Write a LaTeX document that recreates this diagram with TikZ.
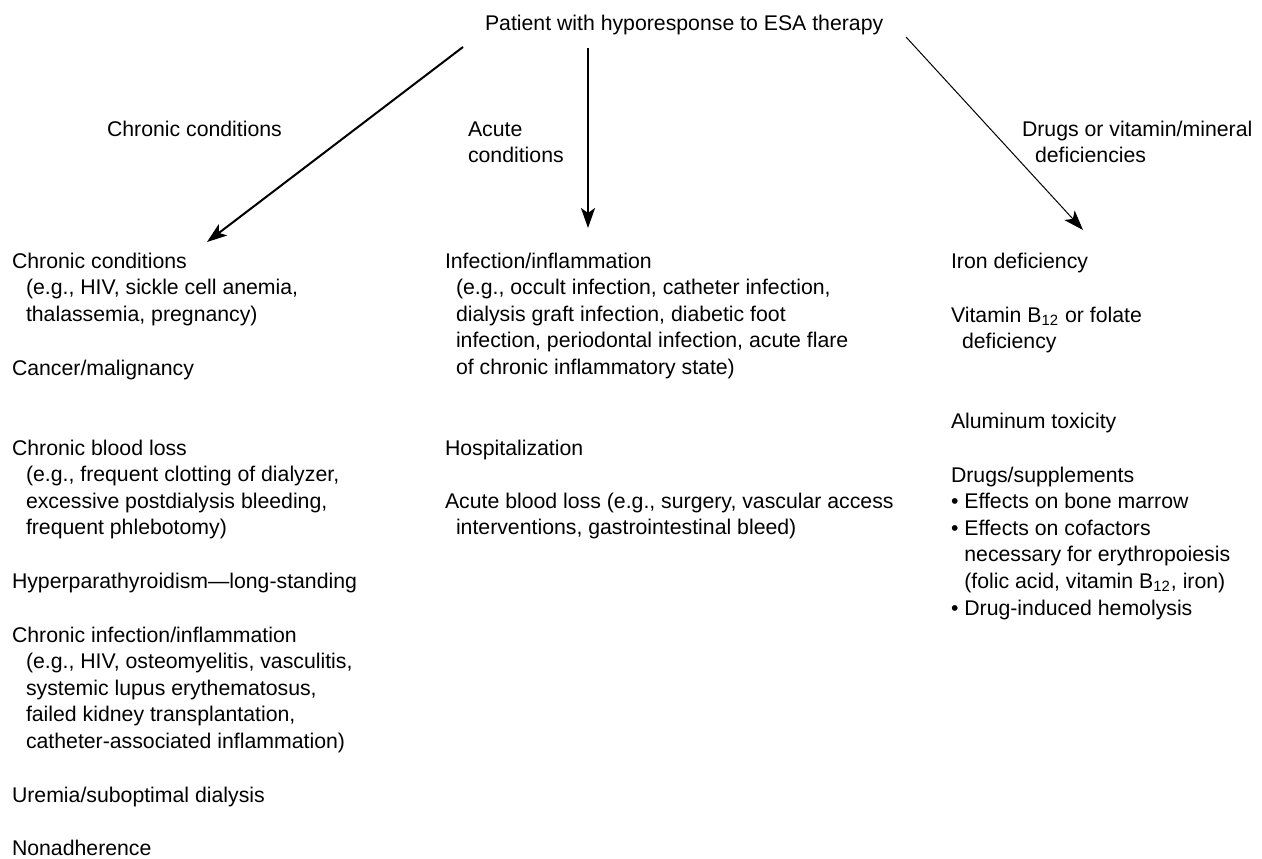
\documentclass[tikz,border=0pt]{standalone}
\usepackage{fontspec}
\setmainfont{Liberation Sans}
\usetikzlibrary{arrows.meta}

% a left-aligned block of lines whose reference point is the first baseline
\newcommand{\textlines}[1]{\begin{tabular}[t]{@{}l@{}}#1\end{tabular}}
\newcommand{\ind}[1]{\hspace*{#1}}
\newcommand{\hang}{\phantom{•\ }}

\tikzset{
  entry/.style={anchor=base west, inner sep=0pt, outer sep=0pt,
                font=\fontsize{10.63pt}{13.3pt}\selectfont},
  branch/.style={-{Stealth[length=10pt,width=7pt,inset=2.5pt]}, line width=#1},
  branch/.default=1pt
}

\begin{document}
\begin{tikzpicture}[x=0.5pt,y=-0.5pt]
\useasboundingbox (0,0) rectangle (1262,858);

% root
\node[entry] (title) at (485,30) {Patient with hyporesponse to ESA therapy};

% branch labels
\node[entry] (labchronic) at (107,136) {Chronic conditions};
\node[entry] (labacute) at (468,136) {\textlines{Acute\\conditions}};
\node[entry] (labdrugs) at (1022,136) {\textlines{Drugs or vitamin/mineral\\\ind{6.5pt}deficiencies}};

% arrow ends
\coordinate (sL) at (463,47);  \coordinate (eL) at (207,242);
\coordinate (sM) at (588,48);  \coordinate (eM) at (588,228);
\coordinate (sR) at (906,37);  \coordinate (eR) at (1083,230);

\draw[branch=1pt] (sL) -- (eL);
\draw[branch=1.2pt] (sM) -- (eM);
\draw[branch=0.5pt] (sR) -- (eR);

% chronic column
\node[entry] (c1) at (12,268) {\textlines{Chronic conditions\\
  \ind{7pt}(e.g., HIV, sickle cell anemia,\\
  \ind{7pt}thalassemia, pregnancy)}};
\node[entry] (c2) at (12,375) {Cancer/malignancy};
\node[entry] (c3) at (12,455) {\textlines{Chronic blood loss\\
  \ind{7pt}(e.g., frequent clotting of dialyzer,\\
  \ind{7pt}excessive postdialysis bleeding,\\
  \ind{7pt}frequent phlebotomy)}};
\node[entry] (c4) at (12,588) {Hyperparathyroidism—long-standing};
\node[entry] (c5) at (12,642) {\textlines{Chronic infection/inflammation\\
  \ind{7pt}(e.g., HIV, osteomyelitis, vasculitis,\\
  \ind{7pt}systemic lupus erythematosus,\\
  \ind{7pt}failed kidney transplantation,\\
  \ind{7pt}catheter-associated inflammation)}};
\node[entry] (c6) at (12,802) {Uremia/suboptimal dialysis};
\node[entry] (c7) at (12,855) {Nonadherence};

% acute column
\node[entry] (a1) at (445,268) {\textlines{Infection/inflammation\\
  \ind{5.5pt}(e.g., occult infection, catheter infection,\\
  \ind{5.5pt}dialysis graft infection, diabetic foot\\
  \ind{5.5pt}infection, periodontal infection, acute flare\\
  \ind{5.5pt}of chronic inflammatory state)}};
\node[entry] (a2) at (445,455) {Hospitalization};
\node[entry] (a3) at (445,508) {\textlines{Acute blood loss (e.g., surgery, vascular access\\
  \ind{5.5pt}interventions, gastrointestinal bleed)}};

% drugs / deficiencies column
\node[entry] (d1) at (951,268) {Iron deficiency};
\node[entry] (d2) at (951,322) {\textlines{Vitamin B\textsubscript{12} or folate\\
  \ind{5.5pt}deficiency}};
\node[entry] (d3) at (951,428) {Aluminum toxicity};
\node[entry] (d4) at (951,482) {\textlines{Drugs/supplements\\
  • Effects on bone marrow\\
  • Effects on cofactors\\
  \hang necessary for erythropoiesis\\
  \hang (folic acid, vitamin B\textsubscript{12}, iron)\\
  • Drug-induced hemolysis}};
\end{tikzpicture}
\end{document}
